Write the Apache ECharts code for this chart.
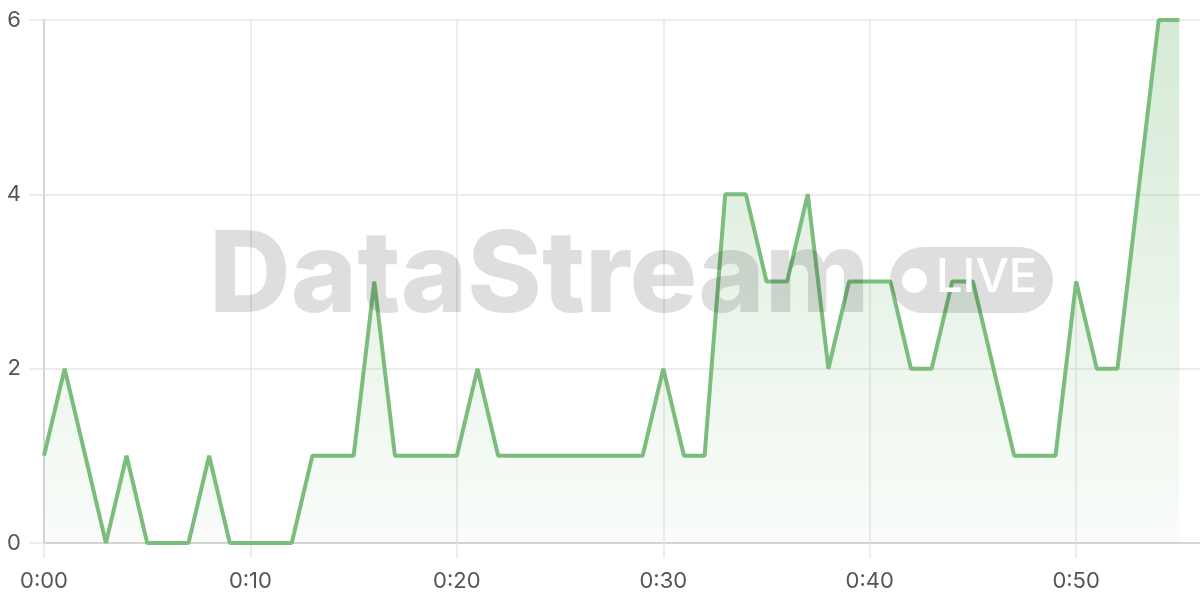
<!DOCTYPE html>
<html lang="en">
  <head>
    <meta charset="UTF-8" />
    <title>DataStream live</title>
    <script src="https://cdn.jsdelivr.net/npm/echarts@6.0.0/dist/echarts.min.js"></script>
    <style>
      html, body { margin: 0; padding: 0; background: #fff; }
      #main { width: 1200px; height: 600px; }
    </style>
  </head>
  <body>
    <div id="main"></div>
    <script>
      // one point per minute, 0:00 .. 0:55 (axis runs on to 0:56)
      const minutes = [
        "0:00", "0:01", "0:02", "0:03", "0:04", "0:05", "0:06", "0:07", "0:08", "0:09",
        "0:10", "0:11", "0:12", "0:13", "0:14", "0:15", "0:16", "0:17", "0:18", "0:19",
        "0:20", "0:21", "0:22", "0:23", "0:24", "0:25", "0:26", "0:27", "0:28", "0:29",
        "0:30", "0:31", "0:32", "0:33", "0:34", "0:35", "0:36", "0:37", "0:38", "0:39",
        "0:40", "0:41", "0:42", "0:43", "0:44", "0:45", "0:46", "0:47", "0:48", "0:49",
        "0:50", "0:51", "0:52", "0:53", "0:54", "0:55", "0:56"
      ];
      const counts = [
        1, 2, 1, 0, 1, 0, 0, 0, 1, 0,
        0, 0, 0, 1, 1, 1, 3, 1, 1, 1,
        1, 2, 1, 1, 1, 1, 1, 1, 1, 1,
        2, 1, 1, 4, 4, 3, 3, 4, 2, 3,
        3, 3, 2, 2, 3, 3, 2, 1, 1, 1,
        3, 2, 2, 4, 6, 6
      ];
      const yTicks = [0, 2, 4, 6];

      let myChart = echarts.init(document.getElementById("main"));

      let options = {
        animation: false,
        grid: { left: 44, right: 0, top: 20, bottom: 57 },
        xAxis: {
          type: "category",
          data: minutes,
          boundaryGap: false,
          axisLine: { lineStyle: { color: "#cccccc", width: 1.5 } },
          axisTick: {
            alignWithLabel: true,
            interval: 9,
            length: 15,
            lineStyle: { color: "#e6e6e6", width: 1.5 },
          },
          axisLabel: {
            interval: (i) => i % 10 === 0 && i <= 50,
            margin: 27,
            color: "#555",
            fontSize: 22,
            fontFamily: "Inter",
          },
          splitLine: {
            show: true,
            interval: 9,
            lineStyle: { color: "#e6e6e6", width: 1.5 },
          },
        },
        yAxis: {
          type: "value",
          min: yTicks[0],
          max: yTicks[yTicks.length - 1],
          interval: 2,
          axisLine: { show: true, lineStyle: { color: "#cccccc", width: 1.5 } },
          axisTick: { show: true, length: 15, lineStyle: { color: "#e6e6e6", width: 1.5 } },
          axisLabel: { margin: 23, color: "#555", fontSize: 22, fontFamily: "Inter" },
          splitLine: { lineStyle: { color: "#e6e6e6", width: 1.5 } },
        },
        series: [
          {
            name: "Count",
            type: "line",
            data: counts,
            symbol: "none",
            lineStyle: { color: "#7bbd7c", width: 4 },
            itemStyle: { color: "#7bbd7c" },
            areaStyle: {
              color: new echarts.graphic.LinearGradient(0, 0, 0, 1, [
                { offset: 0, color: "rgba(123,189,124,0.45)" },
                { offset: 1, color: "rgba(123,189,124,0.06)" },
              ]),
            },
          },
        ],
        // watermark
        graphic: [
          {
            type: "text",
            left: 209,
            top: 222,
            z: 100,
            style: {
              text: "DataStream",
              fill: "rgba(0,0,0,0.13)",
              font: "800 113px Inter",
            },
          },
          {
            type: "rect",
            left: 890,
            top: 247,
            z: 100,
            shape: { width: 163, height: 66, r: 33 },
            style: { fill: "rgba(0,0,0,0.13)" },
          },
          {
            type: "circle",
            left: 902,
            top: 268,
            z: 101,
            shape: { r: 12.5 },
            style: { fill: "#ffffff" },
          },
          {
            type: "text",
            left: 936,
            top: 254,
            z: 101,
            style: {
              text: "LIVE",
              fill: "#ffffff",
              font: "500 47px Inter",
            },
          },
        ],
      };

      myChart.setOption(options);
    </script>
  </body>
</html>
